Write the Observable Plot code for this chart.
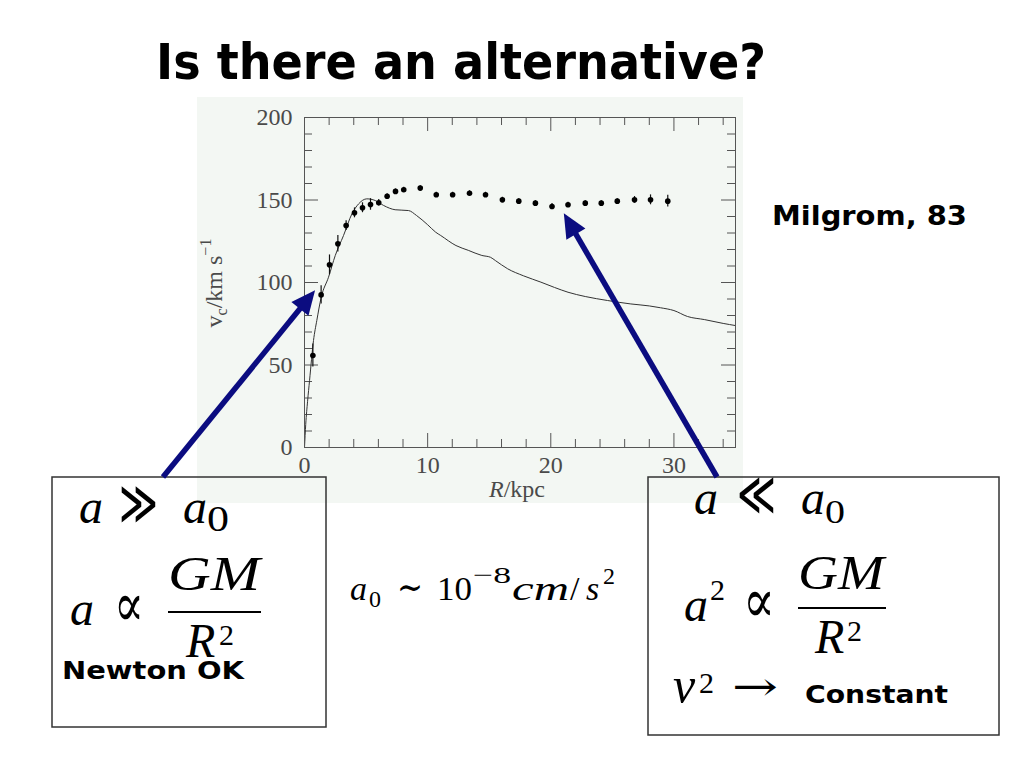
<!DOCTYPE html>
<html><head><meta charset="utf-8">
<script src="https://cdn.jsdelivr.net/npm/d3@7"></script>
<script src="https://cdn.jsdelivr.net/npm/@observablehq/plot@0.6"></script>
<style>
html,body{margin:0;padding:0;background:#fff;}
#stage{position:relative;width:1024px;height:768px;overflow:hidden;background:#fff;}
#chart{position:absolute;left:197px;top:97px;}
#overlay{position:absolute;left:0;top:0;}
</style></head><body>
<div id="stage"><div id="chart"></div><svg id="overlay" width="1024" height="768"></svg></div>
<script>
// ---- data ----
// observed rotation curve (points with error bars)
const pointR = [0.68,1.35,2.03,2.71,3.38,4.06,4.71,5.36,6.03,6.71,7.39,8.06,9.4,10.7,12.03,13.4,14.7,16.07,17.4,18.75,20.1,21.4,22.8,24.1,25.4,26.8,28.1,29.5];
const pointV = [55.8,92.5,110.7,123.5,134.5,142.2,145.3,147.3,148.3,152.3,155.2,156.2,157.2,153.2,153.2,154.1,153.2,150.1,149.3,148.1,146.1,147.1,148.1,148.1,149.3,150.1,150.1,149.3];
const pointErr = [7,5.5,6,5,3,3,3,3.5,2,1.5,1.5,1.5,1.5,1.5,1.5,1.5,1.5,1.5,1.5,1.5,1.8,1.5,1.5,1.5,1.5,2,3,3.6];
// Newtonian prediction (solid line)
const curveR = [0,0.1,0.25,0.41,0.73,1.0,1.36,1.95,2.5,3.17,3.85,4.4,5.06,5.74,6.42,7.36,8.45,9.1,10.0,10.65,11.06,12.3,13.3,14.4,15.1,15.5,16.5,17.8,19.2,20.3,21.4,22.8,24.6,26.5,28.0,28.9,30.0,31.1,32.5,34.0,35.0];
const curveV = [0,14,28,40.6,64.8,77,91.1,103.2,116.4,128.5,141.6,147.7,150.7,149.7,146.7,144.1,143.6,140.6,135,130.5,128.5,122.4,119.5,116.4,115.3,113.3,108.3,104,100.2,97,94.1,91.5,89.1,87,85.8,84.7,83,79.4,77.5,75.2,73.9];
// axis ticks
const xMajorTicks = [0,10,20,30];
const xMinorTicks = [2,4,6,8,12,14,16,18,22,24,26,28,32,34];
const yMajorTicks = [0,50,100,150,200];
const yMinorTicks = [10,20,30,40,60,70,80,90,110,120,130,140,160,170,180,190];
// arrow targets (data coordinates)
const arrowTipR = [0.9, 21.1];
const arrowTipV = [95, 141.6];

const points = pointR.map((r, i) => ({r, v: pointV[i], e: pointErr[i]}));
const curve = curveR.map((r, i) => ({r, v: curveV[i]}));

const W = 546, H = 406, mL = 107, mR = 8, mT = 20, mB = 56;
const innerW = W - mL - mR, innerH = H - mT - mB;
const majLen = 14, minLen = 8;

const plot = Plot.plot({
  width: W, height: H,
  marginLeft: mL, marginRight: mR, marginTop: mT, marginBottom: mB,
  style: {background: "#f3f7f3", fontFamily: "'Liberation Serif', serif", fontSize: "24px", color: "#4a4a4a", overflow: "visible"},
  x: {domain: [0, 35]},
  y: {domain: [0, 200]},
  marks: [
    // inward ticks on all four sides
    Plot.ruleX(xMajorTicks, {x: d => d, insetTop: innerH - majLen, stroke: "#555"}),
    Plot.ruleX(xMinorTicks, {x: d => d, insetTop: innerH - minLen, stroke: "#555"}),
    Plot.ruleX(xMajorTicks, {x: d => d, insetBottom: innerH - majLen, stroke: "#555"}),
    Plot.ruleX(xMinorTicks, {x: d => d, insetBottom: innerH - minLen, stroke: "#555"}),
    Plot.ruleY(yMajorTicks, {y: d => d, insetRight: innerW - majLen, stroke: "#555"}),
    Plot.ruleY(yMinorTicks, {y: d => d, insetRight: innerW - minLen, stroke: "#555"}),
    Plot.ruleY(yMajorTicks, {y: d => d, insetLeft: innerW - majLen, stroke: "#555"}),
    Plot.ruleY(yMinorTicks, {y: d => d, insetLeft: innerW - minLen, stroke: "#555"}),
    Plot.axisX({ticks: xMajorTicks, tickSize: 0, tickPadding: 8, label: null, fontSize: 24}),
    Plot.axisY({ticks: yMajorTicks, tickSize: 0, tickPadding: 12, label: null, fontSize: 24}),
    Plot.line(curve, {x: "r", y: "v", stroke: "#333", strokeWidth: 1, curve: "monotone-x", clip: true}),
    Plot.ruleX(points, {x: "r", y1: d => d.v - d.e, y2: d => d.v + d.e, stroke: "#111", strokeWidth: 1.2}),
    Plot.dot(points, {x: "r", y: "v", r: 2.8, fill: "#000", stroke: null}),
    Plot.frame({stroke: "#555"})
  ]
});
document.getElementById("chart").appendChild(plot);

// axis labels with sub/superscripts
const psvg = d3.select(plot);
const yl = psvg.append("text")
  .attr("transform", `translate(25,${283 - 97}) rotate(-90)`)
  .attr("text-anchor", "middle")
  .attr("font-family", "'Liberation Serif', serif").attr("font-size", 24).attr("fill", "#4a4a4a");
yl.append("tspan").text("v");
yl.append("tspan").attr("font-size", 16).attr("dy", 5).text("c");
yl.append("tspan").attr("dy", -5).text("/km s");
yl.append("tspan").attr("font-size", 16).attr("dy", -11).text("−1");
const xl = psvg.append("text")
  .attr("x", 320).attr("y", 400).attr("text-anchor", "middle")
  .attr("font-family", "'Liberation Serif', serif").attr("font-size", 24).attr("fill", "#4a4a4a");
xl.append("tspan").attr("font-style", "italic").text("R");
xl.append("tspan").text("/kpc");

// ---- overlay: title, boxes, formulas, arrows ----
const ov = d3.select("#overlay");
const comic = "'DejaVu Sans', sans-serif";
const serif = "'Liberation Serif', 'DejaVu Serif', serif";
const sym = "'DejaVu Serif', serif";

function txt(x, y, s, o = {}) {
  const t = ov.append("text").attr("x", x).attr("y", y).text(s)
    .attr("font-family", o.family || serif).attr("font-size", o.size || 48)
    .attr("fill", o.fill || "#000");
  if (o.italic) t.attr("font-style", "italic");
  if (o.bold) t.attr("font-weight", "bold");
  if (o.len) t.attr("textLength", o.len).attr("lengthAdjust", "spacingAndGlyphs");
  return t;
}

txt(156, 79, "Is there an alternative?", {family: comic, size: 50, bold: true, len: 610});
txt(772, 225, "Milgrom, 83", {family: comic, size: 27, bold: true, len: 195});

ov.append("rect").attr("x", 52).attr("y", 477).attr("width", 274).attr("height", 250)
  .attr("fill", "none").attr("stroke", "#333").attr("stroke-width", 1.5);
ov.append("rect").attr("x", 648).attr("y", 477).attr("width", 351).attr("height", 258)
  .attr("fill", "none").attr("stroke", "#333").attr("stroke-width", 1.5);

// left box
txt(79, 523, "a", {italic: true});
txt(119, 524, "≫", {family: sym, size: 62, len: 39});
txt(183, 523, "a", {italic: true});
txt(207, 531, "0", {size: 36, len: 22});
txt(70, 625, "a", {italic: true});
txt(114, 626, "∝", {family: sym, size: 62, len: 30});
txt(168, 590, "GM", {italic: true, len: 92});
ov.append("line").attr("x1", 168).attr("x2", 261).attr("y1", 612).attr("y2", 612).attr("stroke", "#000").attr("stroke-width", 2);
txt(186, 657, "R", {italic: true});
txt(219, 645, "2", {size: 30});
txt(62, 679, "Newton OK", {family: comic, size: 25, bold: true, len: 182});

// middle formula
txt(350, 600, "a", {italic: true, size: 34});
txt(369, 607, "0", {size: 24});
txt(397, 600, "∼", {family: sym, size: 38, len: 26});
txt(437, 600, "10", {size: 34, len: 35});
txt(473, 583, "−8", {size: 24, len: 38});
txt(512, 600, "cm", {italic: true, size: 34, len: 57});
txt(570, 600, "/", {size: 34});
txt(586, 600, "s", {italic: true, size: 34});
txt(603, 584, "2", {size: 24});

// right box
txt(694, 514, "a", {italic: true});
txt(737, 515, "≪", {family: sym, size: 62, len: 39});
txt(801, 514, "a", {italic: true});
txt(825, 523, "0", {size: 34, len: 20});
txt(684, 621, "a", {italic: true});
txt(710, 600, "2", {size: 30});
txt(743, 622, "∝", {family: sym, size: 62, len: 32});
txt(798, 589, "GM", {italic: true, len: 86});
ov.append("line").attr("x1", 798).attr("x2", 886).attr("y1", 608).attr("y2", 608).attr("stroke", "#000").attr("stroke-width", 2);
txt(815, 653, "R", {italic: true});
txt(847, 641, "2", {size: 30});
txt(673, 702, "v", {italic: true, size: 50});
txt(699, 693, "2", {size: 30});
txt(732, 700, "→", {family: sym, size: 40, len: 46});
txt(805, 703, "Constant", {family: comic, size: 25, bold: true, len: 143});

// arrows pointing at the data
const xs = plot.scale("x"), ys = plot.scale("y");
const offX = 197, offY = 97;
const tails = [[163, 477], [717, 477]];
const navy = "#0b0c80";
tails.forEach(([tx, ty], i) => {
  const hx = offX + xs.apply(arrowTipR[i]);
  const hy = offY + ys.apply(arrowTipV[i]);
  const dx = hx - tx, dy = hy - ty, L = Math.hypot(dx, dy);
  const ux = dx / L, uy = dy / L, px = -uy, py = ux;
  const hl = 24, hw = 11;
  const bx = hx - ux * hl, by = hy - uy * hl;
  ov.append("line").attr("x1", tx).attr("y1", ty).attr("x2", bx + ux * 2).attr("y2", by + uy * 2)
    .attr("stroke", navy).attr("stroke-width", 5.5);
  ov.append("path")
    .attr("d", `M${hx},${hy}L${bx + px * hw},${by + py * hw}L${bx - px * hw},${by - py * hw}Z`)
    .attr("fill", navy);
});
</script>
</body></html>
